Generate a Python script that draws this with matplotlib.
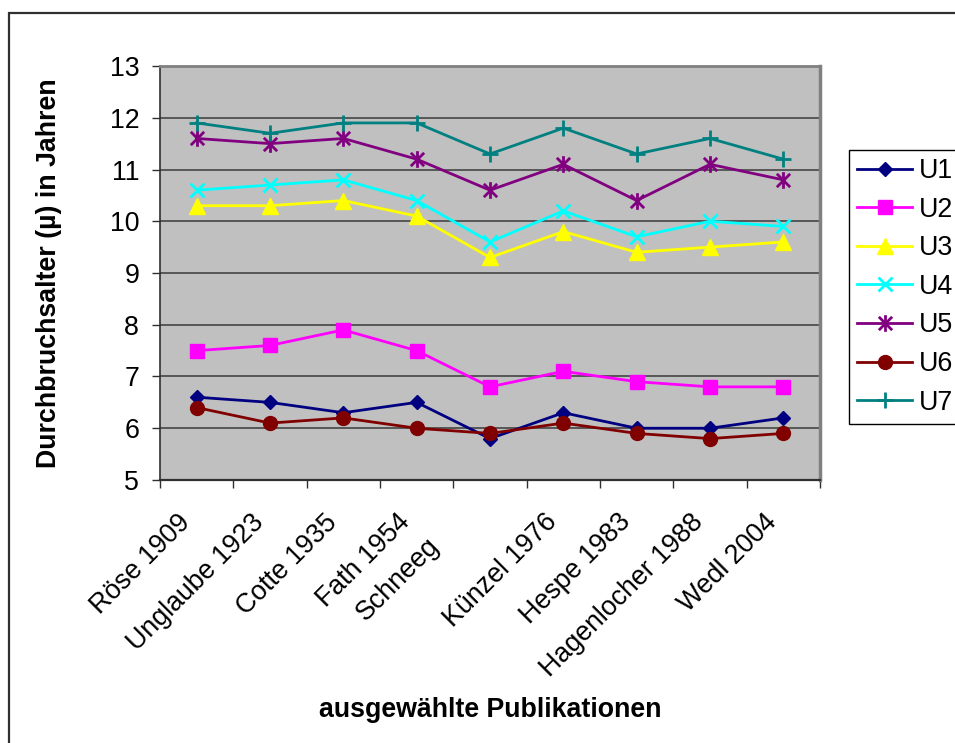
import numpy as np
import matplotlib
matplotlib.use("Agg")
import matplotlib.pyplot as plt
from matplotlib.path import Path
from matplotlib.patches import Rectangle

plt.rcParams['font.family'] = ['Liberation Sans', 'DejaVu Sans']

publications = ["Röse 1909", "Unglaube 1923", "Cotte 1935", "Fath 1954", "Schneeg",
                "Künzel 1976", "Hespe 1983", "Hagenlocher 1988", "Wedl 2004"]
series_names = ["U1", "U2", "U3", "U4", "U5", "U6", "U7"]

u1 = [6.6, 6.5, 6.3, 6.5, 5.8, 6.3, 6.0, 6.0, 6.2]
u2 = [7.5, 7.6, 7.9, 7.5, 6.8, 7.1, 6.9, 6.8, 6.8]
u3 = [10.3, 10.3, 10.4, 10.1, 9.3, 9.8, 9.4, 9.5, 9.6]
u4 = [10.6, 10.7, 10.8, 10.4, 9.6, 10.2, 9.7, 10.0, 9.9]
u5 = [11.6, 11.5, 11.6, 11.2, 10.6, 11.1, 10.4, 11.1, 10.8]
u6 = [6.4, 6.1, 6.2, 6.0, 5.9, 6.1, 5.9, 5.8, 5.9]
u7 = [11.9, 11.7, 11.9, 11.9, 11.3, 11.8, 11.3, 11.6, 11.2]

yticks = [5, 6, 7, 8, 9, 10, 11, 12, 13]

FS = 19.3

# asterisk marker: an "x" with a vertical bar through it
asterisk = Path([(-1, -1), (1, 1), (-1, 1), (1, -1), (0, -1.25), (0, 1.25)],
                [Path.MOVETO, Path.LINETO, Path.MOVETO, Path.LINETO, Path.MOVETO, Path.LINETO])

styles = [
    dict(color="#000080", marker="D", ms=7),
    dict(color="#FF00FF", marker="s", ms=10.5),
    dict(color="#FFFF00", marker="^", ms=11),
    dict(color="#00FFFF", marker="x", ms=10, mew=2),
    dict(color="#800080", marker=asterisk, ms=12, mew=2),
    dict(color="#800000", marker="o", ms=10),
    dict(color="#008080", marker="+", ms=11, mew=2),
]

fig = plt.figure(figsize=(9.55, 7.43), dpi=100)
fig.patch.set_facecolor("white")

# outer chart frame, running off the right and bottom edges
fig.patches.append(Rectangle((9 / 955, -0.1), 1.2, 1.1 - 13 / 743, transform=fig.transFigure,
                             fill=False, edgecolor="#303030", linewidth=1.6))

ax = fig.add_axes([160 / 955, 1 - 480 / 743, 660 / 955, 414 / 743])
ax.set_facecolor("#C0C0C0")

x = np.arange(len(publications))
for name, vals, st in zip(series_names, [u1, u2, u3, u4, u5, u6, u7], styles):
    ax.plot(x, vals, color=st["color"], lw=2.0, marker=st["marker"], ms=st["ms"],
            mew=st.get("mew", 1), mec=st["color"], mfc=st["color"], label=name, zorder=3)

ax.set_ylim(5, 13)
ax.set_yticks(yticks)
ax.set_yticklabels([str(v) for v in yticks])
ax.set_xlim(-0.5, len(publications) - 0.5)
ax.set_xticks(np.arange(-0.5, len(publications)))
ax.set_xticklabels([])

for yv in yticks[1:-1]:
    ax.axhline(yv, color="#3a3a3a", lw=1.1, zorder=1)

ax.tick_params(axis="y", direction="out", length=6, width=1, labelsize=FS, pad=9, colors="#303030",
               labelcolor="black")
ax.tick_params(axis="x", direction="out", length=6, width=1, colors="#303030")

ax.spines["left"].set_color("#303030")
ax.spines["bottom"].set_color("#303030")
ax.spines["left"].set_linewidth(1.2)
ax.spines["bottom"].set_linewidth(1.6)
ax.spines["top"].set_color("#808080")
ax.spines["right"].set_color("#808080")
ax.spines["top"].set_linewidth(2)
ax.spines["right"].set_linewidth(2.5)

# category names, rotated like the spreadsheet axis
for i, lab in enumerate(publications):
    if lab == "Schneeg":
        off = (-46, -38)
    else:
        off = (-14, -21)
    ax.annotate(lab, xy=(i, 0), xycoords=("data", "axes fraction"), xytext=off,
                textcoords="offset points", rotation=45, rotation_mode="anchor",
                ha="right", va="top", fontsize=FS)

fig.text(49 / 955, 1 - 273 / 743, "Durchbruchsalter (µ) in Jahren", rotation=90,
         ha="center", va="center", fontsize=FS, fontweight="bold")
fig.text(490 / 955, 1 - 710 / 743, "ausgewählte Publikationen",
         ha="center", va="center", fontsize=FS, fontweight="bold")

leg = fig.legend(loc="upper left", bbox_to_anchor=(849 / 955, 1 - 150 / 743), borderaxespad=0,
                 fontsize=FS, numpoints=1, handlelength=2.05, handletextpad=0.25,
                 labelspacing=0.47, borderpad=0.3, fancybox=False, framealpha=1,
                 edgecolor="black")
leg.get_frame().set_linewidth(1)

fig.savefig("out.png", dpi=100, facecolor="white")
